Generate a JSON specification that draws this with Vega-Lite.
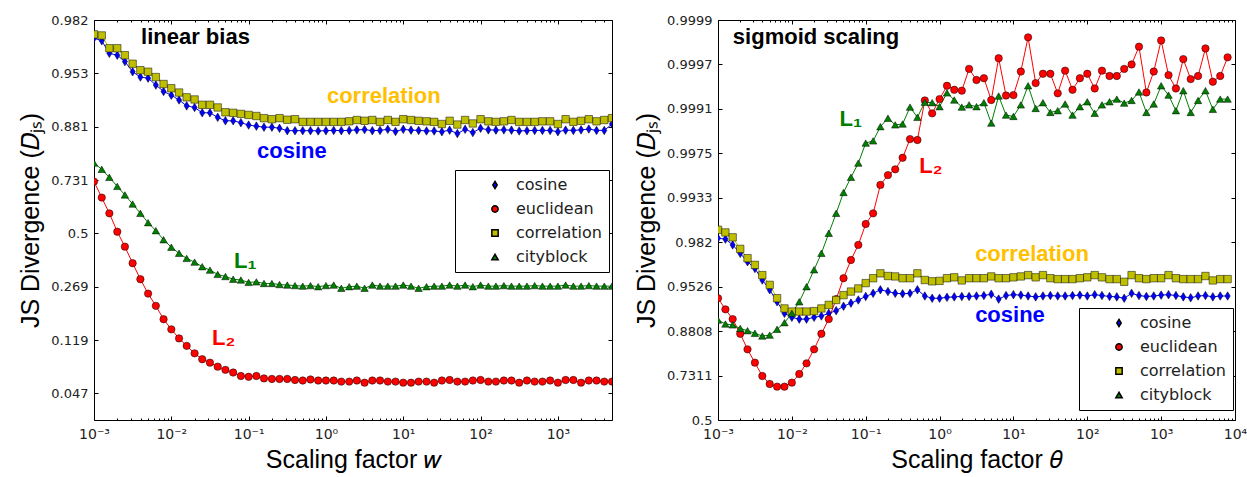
{
"$schema": "https://vega.github.io/schema/vega-lite/v6.json",
"background": "white",
"padding": {"left": 18, "top": 13, "right": 0, "bottom": 0},
"spacing": 21,
"config": {
  "view": {"stroke": "black", "strokeWidth": 1},
  "axis": {"domain": false, "grid": false, "labelFlush": false, "tickColor": "black", "tickWidth": 1, "labelFont": "DejaVu Sans", "labelFontSize": 13, "labelColor": "#222222", "titleFont": "Liberation Sans", "titleFontSize": 25, "titleFontWeight": "normal", "titleColor": "black"}
},
"resolve": {"scale": {"color": "independent", "shape": "independent", "stroke": "independent"}},
"datasets": {
"L": [
{"s":"cosine","x":0.001,"y":3.66},{"s":"cosine","x":0.00126,"y":3.61},{"s":"cosine","x":0.00158,"y":3.375},{"s":"cosine","x":0.002,"y":3.34},{"s":"cosine","x":0.00251,"y":3.22},{"s":"cosine","x":0.00316,"y":3.03},{"s":"cosine","x":0.00398,"y":2.93},{"s":"cosine","x":0.00501,"y":2.91},{"s":"cosine","x":0.00631,"y":2.78},{"s":"cosine","x":0.00794,"y":2.66},
{"s":"cosine","x":0.01,"y":2.59},{"s":"cosine","x":0.0126,"y":2.5},{"s":"cosine","x":0.0158,"y":2.39},{"s":"cosine","x":0.02,"y":2.36},{"s":"cosine","x":0.0251,"y":2.26},{"s":"cosine","x":0.0316,"y":2.26},{"s":"cosine","x":0.0398,"y":2.175},{"s":"cosine","x":0.0501,"y":2.11},{"s":"cosine","x":0.0631,"y":2.11},{"s":"cosine","x":0.0794,"y":2.075},
{"s":"cosine","x":0.1,"y":2.03},{"s":"cosine","x":0.126,"y":2.01},{"s":"cosine","x":0.158,"y":1.99},{"s":"cosine","x":0.2,"y":1.99},{"s":"cosine","x":0.251,"y":1.97},{"s":"cosine","x":0.316,"y":1.925},{"s":"cosine","x":0.398,"y":1.925},{"s":"cosine","x":0.501,"y":1.925},{"s":"cosine","x":0.631,"y":1.925},{"s":"cosine","x":0.794,"y":1.92},
{"s":"cosine","x":1,"y":1.925},{"s":"cosine","x":1.26,"y":1.93},{"s":"cosine","x":1.58,"y":1.925},{"s":"cosine","x":2,"y":1.93},{"s":"cosine","x":2.51,"y":1.94},{"s":"cosine","x":3.16,"y":1.945},{"s":"cosine","x":3.98,"y":1.925},{"s":"cosine","x":5.01,"y":1.93},{"s":"cosine","x":6.31,"y":1.95},{"s":"cosine","x":7.94,"y":1.91},
{"s":"cosine","x":10,"y":1.95},{"s":"cosine","x":12.6,"y":1.935},{"s":"cosine","x":15.8,"y":1.93},{"s":"cosine","x":20,"y":1.92},{"s":"cosine","x":25.1,"y":1.92},{"s":"cosine","x":31.6,"y":1.905},{"s":"cosine","x":39.8,"y":1.935},{"s":"cosine","x":50.1,"y":1.87},{"s":"cosine","x":63.1,"y":1.95},{"s":"cosine","x":79.4,"y":1.89},
{"s":"cosine","x":100,"y":1.97},{"s":"cosine","x":126,"y":1.94},{"s":"cosine","x":158,"y":1.935},{"s":"cosine","x":200,"y":1.94},{"s":"cosine","x":251,"y":1.935},{"s":"cosine","x":316,"y":1.92},{"s":"cosine","x":398,"y":1.925},{"s":"cosine","x":501,"y":1.93},{"s":"cosine","x":631,"y":1.93},{"s":"cosine","x":794,"y":1.93},
{"s":"cosine","x":1000,"y":1.905},{"s":"cosine","x":1259,"y":1.935},{"s":"cosine","x":1585,"y":1.93},{"s":"cosine","x":1995,"y":1.94},{"s":"cosine","x":2512,"y":1.955},{"s":"cosine","x":3162,"y":1.93},{"s":"cosine","x":3981,"y":1.93},{"s":"cosine","x":5012,"y":2.05},
{"s":"euclidean","x":0.001,"y":0.97},{"s":"euclidean","x":0.00126,"y":0.67},{"s":"euclidean","x":0.00158,"y":0.375},{"s":"euclidean","x":0.002,"y":0.03},{"s":"euclidean","x":0.00251,"y":-0.25},{"s":"euclidean","x":0.00316,"y":-0.56},{"s":"euclidean","x":0.00398,"y":-0.86},{"s":"euclidean","x":0.00501,"y":-1.13},{"s":"euclidean","x":0.00631,"y":-1.36},{"s":"euclidean","x":0.00794,"y":-1.61},
{"s":"euclidean","x":0.01,"y":-1.8},{"s":"euclidean","x":0.0126,"y":-1.97},{"s":"euclidean","x":0.0158,"y":-2.11},{"s":"euclidean","x":0.02,"y":-2.25},{"s":"euclidean","x":0.0251,"y":-2.36},{"s":"euclidean","x":0.0316,"y":-2.425},{"s":"euclidean","x":0.0398,"y":-2.5},{"s":"euclidean","x":0.0501,"y":-2.56},{"s":"euclidean","x":0.0631,"y":-2.61},{"s":"euclidean","x":0.0794,"y":-2.675},
{"s":"euclidean","x":0.1,"y":-2.69},{"s":"euclidean","x":0.126,"y":-2.675},{"s":"euclidean","x":0.158,"y":-2.72},{"s":"euclidean","x":0.2,"y":-2.73},{"s":"euclidean","x":0.251,"y":-2.73},{"s":"euclidean","x":0.316,"y":-2.73},{"s":"euclidean","x":0.398,"y":-2.75},{"s":"euclidean","x":0.501,"y":-2.76},{"s":"euclidean","x":0.631,"y":-2.74},{"s":"euclidean","x":0.794,"y":-2.76},
{"s":"euclidean","x":1,"y":-2.76},{"s":"euclidean","x":1.26,"y":-2.76},{"s":"euclidean","x":1.58,"y":-2.78},{"s":"euclidean","x":2,"y":-2.78},{"s":"euclidean","x":2.51,"y":-2.76},{"s":"euclidean","x":3.16,"y":-2.8},{"s":"euclidean","x":3.98,"y":-2.76},{"s":"euclidean","x":5.01,"y":-2.76},{"s":"euclidean","x":6.31,"y":-2.78},{"s":"euclidean","x":7.94,"y":-2.78},
{"s":"euclidean","x":10,"y":-2.8},{"s":"euclidean","x":12.6,"y":-2.8},{"s":"euclidean","x":15.8,"y":-2.78},{"s":"euclidean","x":20,"y":-2.78},{"s":"euclidean","x":25.1,"y":-2.8},{"s":"euclidean","x":31.6,"y":-2.76},{"s":"euclidean","x":39.8,"y":-2.75},{"s":"euclidean","x":50.1,"y":-2.78},{"s":"euclidean","x":63.1,"y":-2.78},{"s":"euclidean","x":79.4,"y":-2.76},
{"s":"euclidean","x":100,"y":-2.75},{"s":"euclidean","x":126,"y":-2.78},{"s":"euclidean","x":158,"y":-2.78},{"s":"euclidean","x":200,"y":-2.76},{"s":"euclidean","x":251,"y":-2.76},{"s":"euclidean","x":316,"y":-2.8},{"s":"euclidean","x":398,"y":-2.76},{"s":"euclidean","x":501,"y":-2.78},{"s":"euclidean","x":631,"y":-2.78},{"s":"euclidean","x":794,"y":-2.76},
{"s":"euclidean","x":1000,"y":-2.8},{"s":"euclidean","x":1259,"y":-2.75},{"s":"euclidean","x":1585,"y":-2.75},{"s":"euclidean","x":1995,"y":-2.8},{"s":"euclidean","x":2512,"y":-2.76},{"s":"euclidean","x":3162,"y":-2.76},{"s":"euclidean","x":3981,"y":-2.78},{"s":"euclidean","x":5012,"y":-2.78},
{"s":"correlation","x":0.001,"y":3.73},{"s":"correlation","x":0.00126,"y":3.71},{"s":"correlation","x":0.00158,"y":3.47},{"s":"correlation","x":0.002,"y":3.47},{"s":"correlation","x":0.00251,"y":3.34},{"s":"correlation","x":0.00316,"y":3.18},{"s":"correlation","x":0.00398,"y":3.06},{"s":"correlation","x":0.00501,"y":3.03},{"s":"correlation","x":0.00631,"y":2.93},{"s":"correlation","x":0.00794,"y":2.8},
{"s":"correlation","x":0.01,"y":2.72},{"s":"correlation","x":0.0126,"y":2.64},{"s":"correlation","x":0.0158,"y":2.55},{"s":"correlation","x":0.02,"y":2.51},{"s":"correlation","x":0.0251,"y":2.41},{"s":"correlation","x":0.0316,"y":2.41},{"s":"correlation","x":0.0398,"y":2.36},{"s":"correlation","x":0.0501,"y":2.27},{"s":"correlation","x":0.0631,"y":2.26},{"s":"correlation","x":0.0794,"y":2.24},
{"s":"correlation","x":0.1,"y":2.22},{"s":"correlation","x":0.126,"y":2.2},{"s":"correlation","x":0.158,"y":2.16},{"s":"correlation","x":0.2,"y":2.14},{"s":"correlation","x":0.251,"y":2.16},{"s":"correlation","x":0.316,"y":2.13},{"s":"correlation","x":0.398,"y":2.14},{"s":"correlation","x":0.501,"y":2.09},{"s":"correlation","x":0.631,"y":2.09},{"s":"correlation","x":0.794,"y":2.09},
{"s":"correlation","x":1,"y":2.09},{"s":"correlation","x":1.26,"y":2.09},{"s":"correlation","x":1.58,"y":2.09},{"s":"correlation","x":2,"y":2.1},{"s":"correlation","x":2.51,"y":2.125},{"s":"correlation","x":3.16,"y":2.11},{"s":"correlation","x":3.98,"y":2.125},{"s":"correlation","x":5.01,"y":2.09},{"s":"correlation","x":6.31,"y":2.125},{"s":"correlation","x":7.94,"y":2.09},
{"s":"correlation","x":10,"y":2.14},{"s":"correlation","x":12.6,"y":2.125},{"s":"correlation","x":15.8,"y":2.11},{"s":"correlation","x":20,"y":2.1},{"s":"correlation","x":25.1,"y":2.09},{"s":"correlation","x":31.6,"y":2.05},{"s":"correlation","x":39.8,"y":2.11},{"s":"correlation","x":50.1,"y":2.04},{"s":"correlation","x":63.1,"y":2.125},{"s":"correlation","x":79.4,"y":2.06},
{"s":"correlation","x":100,"y":2.14},{"s":"correlation","x":126,"y":2.1},{"s":"correlation","x":158,"y":2.09},{"s":"correlation","x":200,"y":2.1},{"s":"correlation","x":251,"y":2.125},{"s":"correlation","x":316,"y":2.09},{"s":"correlation","x":398,"y":2.09},{"s":"correlation","x":501,"y":2.09},{"s":"correlation","x":631,"y":2.1},{"s":"correlation","x":794,"y":2.1},
{"s":"correlation","x":1000,"y":2.05},{"s":"correlation","x":1259,"y":2.14},{"s":"correlation","x":1585,"y":2.09},{"s":"correlation","x":1995,"y":2.11},{"s":"correlation","x":2512,"y":2.14},{"s":"correlation","x":3162,"y":2.1},{"s":"correlation","x":3981,"y":2.125},{"s":"correlation","x":5012,"y":2.16},
{"s":"cityblock","x":0.001,"y":1.32},{"s":"cityblock","x":0.00126,"y":1.2},{"s":"cityblock","x":0.00158,"y":1.05},{"s":"cityblock","x":0.002,"y":0.88},{"s":"cityblock","x":0.00251,"y":0.72},{"s":"cityblock","x":0.00316,"y":0.55},{"s":"cityblock","x":0.00398,"y":0.375},{"s":"cityblock","x":0.00501,"y":0.2},{"s":"cityblock","x":0.00631,"y":0.05},{"s":"cityblock","x":0.00794,"y":-0.12},
{"s":"cityblock","x":0.01,"y":-0.26},{"s":"cityblock","x":0.0126,"y":-0.375},{"s":"cityblock","x":0.0158,"y":-0.47},{"s":"cityblock","x":0.02,"y":-0.54},{"s":"cityblock","x":0.0251,"y":-0.625},{"s":"cityblock","x":0.0316,"y":-0.69},{"s":"cityblock","x":0.0398,"y":-0.77},{"s":"cityblock","x":0.0501,"y":-0.81},{"s":"cityblock","x":0.0631,"y":-0.86},{"s":"cityblock","x":0.0794,"y":-0.875},
{"s":"cityblock","x":0.1,"y":-0.92},{"s":"cityblock","x":0.126,"y":-0.91},{"s":"cityblock","x":0.158,"y":-0.94},{"s":"cityblock","x":0.2,"y":-0.94},{"s":"cityblock","x":0.251,"y":-0.96},{"s":"cityblock","x":0.316,"y":-0.97},{"s":"cityblock","x":0.398,"y":-0.98},{"s":"cityblock","x":0.501,"y":-0.99},{"s":"cityblock","x":0.631,"y":-0.98},{"s":"cityblock","x":0.794,"y":-1.0},
{"s":"cityblock","x":1,"y":-0.98},{"s":"cityblock","x":1.26,"y":-0.97},{"s":"cityblock","x":1.58,"y":-1.03},{"s":"cityblock","x":2,"y":-1.0},{"s":"cityblock","x":2.51,"y":-0.99},{"s":"cityblock","x":3.16,"y":-1.03},{"s":"cityblock","x":3.98,"y":-0.97},{"s":"cityblock","x":5.01,"y":-0.99},{"s":"cityblock","x":6.31,"y":-0.99},{"s":"cityblock","x":7.94,"y":-0.99},
{"s":"cityblock","x":10,"y":-0.97},{"s":"cityblock","x":12.6,"y":-0.99},{"s":"cityblock","x":15.8,"y":-1.03},{"s":"cityblock","x":20,"y":-1.0},{"s":"cityblock","x":25.1,"y":-0.99},{"s":"cityblock","x":31.6,"y":-0.99},{"s":"cityblock","x":39.8,"y":-0.97},{"s":"cityblock","x":50.1,"y":-0.99},{"s":"cityblock","x":63.1,"y":-0.97},{"s":"cityblock","x":79.4,"y":-1.0},
{"s":"cityblock","x":100,"y":-0.97},{"s":"cityblock","x":126,"y":-0.99},{"s":"cityblock","x":158,"y":-0.99},{"s":"cityblock","x":200,"y":-0.98},{"s":"cityblock","x":251,"y":-0.99},{"s":"cityblock","x":316,"y":-0.99},{"s":"cityblock","x":398,"y":-0.99},{"s":"cityblock","x":501,"y":-0.98},{"s":"cityblock","x":631,"y":-0.99},{"s":"cityblock","x":794,"y":-0.99},
{"s":"cityblock","x":1000,"y":-0.99},{"s":"cityblock","x":1259,"y":-0.97},{"s":"cityblock","x":1585,"y":-0.99},{"s":"cityblock","x":1995,"y":-0.99},{"s":"cityblock","x":2512,"y":-0.98},{"s":"cityblock","x":3162,"y":-0.99},{"s":"cityblock","x":3981,"y":-0.99},{"s":"cityblock","x":5012,"y":-0.99}
],
"R": [
{"s":"cosine","x":0.001,"y":4.09},{"s":"cosine","x":0.00126,"y":4.07},{"s":"cosine","x":0.00158,"y":3.94},{"s":"cosine","x":0.002,"y":3.75},{"s":"cosine","x":0.00251,"y":3.56},{"s":"cosine","x":0.00316,"y":3.41},{"s":"cosine","x":0.00398,"y":3.15},{"s":"cosine","x":0.00501,"y":2.93},{"s":"cosine","x":0.00631,"y":2.66},{"s":"cosine","x":0.00794,"y":2.4},
{"s":"cosine","x":0.01,"y":2.31},{"s":"cosine","x":0.0126,"y":2.27},{"s":"cosine","x":0.0158,"y":2.27},{"s":"cosine","x":0.02,"y":2.31},{"s":"cosine","x":0.0251,"y":2.34},{"s":"cosine","x":0.0316,"y":2.4},{"s":"cosine","x":0.0398,"y":2.46},{"s":"cosine","x":0.0501,"y":2.56},{"s":"cosine","x":0.0631,"y":2.63},{"s":"cosine","x":0.0794,"y":2.7},
{"s":"cosine","x":0.1,"y":2.78},{"s":"cosine","x":0.126,"y":2.85},{"s":"cosine","x":0.158,"y":2.93},{"s":"cosine","x":0.2,"y":2.89},{"s":"cosine","x":0.251,"y":2.85},{"s":"cosine","x":0.316,"y":2.84},{"s":"cosine","x":0.398,"y":2.85},{"s":"cosine","x":0.501,"y":2.93},{"s":"cosine","x":0.631,"y":2.79},{"s":"cosine","x":0.794,"y":2.74},
{"s":"cosine","x":1,"y":2.74},{"s":"cosine","x":1.26,"y":2.76},{"s":"cosine","x":1.58,"y":2.77},{"s":"cosine","x":2,"y":2.78},{"s":"cosine","x":2.51,"y":2.78},{"s":"cosine","x":3.16,"y":2.79},{"s":"cosine","x":3.98,"y":2.8},{"s":"cosine","x":5.01,"y":2.83},{"s":"cosine","x":6.31,"y":2.72},{"s":"cosine","x":7.94,"y":2.8},
{"s":"cosine","x":10,"y":2.82},{"s":"cosine","x":12.6,"y":2.81},{"s":"cosine","x":15.8,"y":2.79},{"s":"cosine","x":20,"y":2.77},{"s":"cosine","x":25.1,"y":2.79},{"s":"cosine","x":31.6,"y":2.8},{"s":"cosine","x":39.8,"y":2.79},{"s":"cosine","x":50.1,"y":2.79},{"s":"cosine","x":63.1,"y":2.8},{"s":"cosine","x":79.4,"y":2.81},
{"s":"cosine","x":100,"y":2.79},{"s":"cosine","x":126,"y":2.82},{"s":"cosine","x":158,"y":2.8},{"s":"cosine","x":200,"y":2.78},{"s":"cosine","x":251,"y":2.77},{"s":"cosine","x":316,"y":2.74},{"s":"cosine","x":398,"y":2.85},{"s":"cosine","x":501,"y":2.8},{"s":"cosine","x":631,"y":2.78},{"s":"cosine","x":794,"y":2.79},
{"s":"cosine","x":1000,"y":2.81},{"s":"cosine","x":1259,"y":2.82},{"s":"cosine","x":1585,"y":2.8},{"s":"cosine","x":1995,"y":2.77},{"s":"cosine","x":2512,"y":2.75},{"s":"cosine","x":3162,"y":2.79},{"s":"cosine","x":3981,"y":2.8},{"s":"cosine","x":5012,"y":2.77},{"s":"cosine","x":6310,"y":2.79},{"s":"cosine","x":7943,"y":2.79},
{"s":"euclidean","x":0.001,"y":2.74},{"s":"euclidean","x":0.00126,"y":2.49},{"s":"euclidean","x":0.00158,"y":2.27},{"s":"euclidean","x":0.002,"y":1.94},{"s":"euclidean","x":0.00251,"y":1.59},{"s":"euclidean","x":0.00316,"y":1.29},{"s":"euclidean","x":0.00398,"y":0.99},{"s":"euclidean","x":0.00501,"y":0.81},{"s":"euclidean","x":0.00631,"y":0.75},{"s":"euclidean","x":0.00794,"y":0.75},
{"s":"euclidean","x":0.01,"y":0.84},{"s":"euclidean","x":0.0126,"y":1.035},{"s":"euclidean","x":0.0158,"y":1.275},{"s":"euclidean","x":0.02,"y":1.59},{"s":"euclidean","x":0.0251,"y":1.94},{"s":"euclidean","x":0.0316,"y":2.27},{"s":"euclidean","x":0.0398,"y":2.72},{"s":"euclidean","x":0.0501,"y":3.19},{"s":"euclidean","x":0.0631,"y":3.6},{"s":"euclidean","x":0.0794,"y":3.94},
{"s":"euclidean","x":0.1,"y":4.41},{"s":"euclidean","x":0.126,"y":4.65},{"s":"euclidean","x":0.158,"y":5.29},{"s":"euclidean","x":0.2,"y":5.51},{"s":"euclidean","x":0.251,"y":5.64},{"s":"euclidean","x":0.316,"y":5.9},{"s":"euclidean","x":0.398,"y":6.32},{"s":"euclidean","x":0.501,"y":6.3},{"s":"euclidean","x":0.631,"y":7.19},{"s":"euclidean","x":0.794,"y":6.9},
{"s":"euclidean","x":1,"y":7.22},{"s":"euclidean","x":1.26,"y":7.52},{"s":"euclidean","x":1.58,"y":7.43},{"s":"euclidean","x":2,"y":7.41},{"s":"euclidean","x":2.51,"y":7.9},{"s":"euclidean","x":3.16,"y":7.65},{"s":"euclidean","x":3.98,"y":7.69},{"s":"euclidean","x":5.01,"y":7.2},{"s":"euclidean","x":6.31,"y":8.14},{"s":"euclidean","x":7.94,"y":7.3},
{"s":"euclidean","x":10,"y":7.31},{"s":"euclidean","x":12.6,"y":7.84},{"s":"euclidean","x":15.8,"y":8.61},{"s":"euclidean","x":20,"y":7.58},{"s":"euclidean","x":25.1,"y":7.79},{"s":"euclidean","x":31.6,"y":7.79},{"s":"euclidean","x":39.8,"y":7.35},{"s":"euclidean","x":50.1,"y":7.86},{"s":"euclidean","x":63.1,"y":7.43},{"s":"euclidean","x":79.4,"y":7.69},
{"s":"euclidean","x":100,"y":7.79},{"s":"euclidean","x":126,"y":7.46},{"s":"euclidean","x":158,"y":7.86},{"s":"euclidean","x":200,"y":7.74},{"s":"euclidean","x":251,"y":7.74},{"s":"euclidean","x":316,"y":7.9},{"s":"euclidean","x":398,"y":8.0},{"s":"euclidean","x":501,"y":8.4},{"s":"euclidean","x":631,"y":7.37},{"s":"euclidean","x":794,"y":7.84},
{"s":"euclidean","x":1000,"y":8.54},{"s":"euclidean","x":1259,"y":7.76},{"s":"euclidean","x":1585,"y":7.46},{"s":"euclidean","x":1995,"y":8.12},{"s":"euclidean","x":2512,"y":7.67},{"s":"euclidean","x":3162,"y":7.74},{"s":"euclidean","x":3981,"y":8.36},{"s":"euclidean","x":5012,"y":7.61},{"s":"euclidean","x":6310,"y":7.74},{"s":"euclidean","x":7943,"y":8.16},
{"s":"correlation","x":0.001,"y":4.28},{"s":"correlation","x":0.00126,"y":4.22},{"s":"correlation","x":0.00158,"y":4.11},{"s":"correlation","x":0.002,"y":3.85},{"s":"correlation","x":0.00251,"y":3.64},{"s":"correlation","x":0.00316,"y":3.49},{"s":"correlation","x":0.00398,"y":3.26},{"s":"correlation","x":0.00501,"y":3.04},{"s":"correlation","x":0.00631,"y":2.74},{"s":"correlation","x":0.00794,"y":2.51},
{"s":"correlation","x":0.01,"y":2.44},{"s":"correlation","x":0.0126,"y":2.44},{"s":"correlation","x":0.0158,"y":2.44},{"s":"correlation","x":0.02,"y":2.45},{"s":"correlation","x":0.0251,"y":2.51},{"s":"correlation","x":0.0316,"y":2.59},{"s":"correlation","x":0.0398,"y":2.7},{"s":"correlation","x":0.0501,"y":2.81},{"s":"correlation","x":0.0631,"y":2.89},{"s":"correlation","x":0.0794,"y":2.96},
{"s":"correlation","x":0.1,"y":3.08},{"s":"correlation","x":0.126,"y":3.19},{"s":"correlation","x":0.158,"y":3.3},{"s":"correlation","x":0.2,"y":3.24},{"s":"correlation","x":0.251,"y":3.23},{"s":"correlation","x":0.316,"y":3.19},{"s":"correlation","x":0.398,"y":3.19},{"s":"correlation","x":0.501,"y":3.3},{"s":"correlation","x":0.631,"y":3.15},{"s":"correlation","x":0.794,"y":3.12},
{"s":"correlation","x":1,"y":3.13},{"s":"correlation","x":1.26,"y":3.19},{"s":"correlation","x":1.58,"y":3.21},{"s":"correlation","x":2,"y":3.14},{"s":"correlation","x":2.51,"y":3.19},{"s":"correlation","x":3.16,"y":3.19},{"s":"correlation","x":3.98,"y":3.19},{"s":"correlation","x":5.01,"y":3.23},{"s":"correlation","x":6.31,"y":3.19},{"s":"correlation","x":7.94,"y":3.19},
{"s":"correlation","x":10,"y":3.21},{"s":"correlation","x":12.6,"y":3.23},{"s":"correlation","x":15.8,"y":3.26},{"s":"correlation","x":20,"y":3.21},{"s":"correlation","x":25.1,"y":3.26},{"s":"correlation","x":31.6,"y":3.19},{"s":"correlation","x":39.8,"y":3.17},{"s":"correlation","x":50.1,"y":3.17},{"s":"correlation","x":63.1,"y":3.17},{"s":"correlation","x":79.4,"y":3.19},
{"s":"correlation","x":100,"y":3.21},{"s":"correlation","x":126,"y":3.26},{"s":"correlation","x":158,"y":3.21},{"s":"correlation","x":200,"y":3.17},{"s":"correlation","x":251,"y":3.17},{"s":"correlation","x":316,"y":3.11},{"s":"correlation","x":398,"y":3.26},{"s":"correlation","x":501,"y":3.19},{"s":"correlation","x":631,"y":3.17},{"s":"correlation","x":794,"y":3.19},
{"s":"correlation","x":1000,"y":3.19},{"s":"correlation","x":1259,"y":3.26},{"s":"correlation","x":1585,"y":3.19},{"s":"correlation","x":1995,"y":3.17},{"s":"correlation","x":2512,"y":3.17},{"s":"correlation","x":3162,"y":3.17},{"s":"correlation","x":3981,"y":3.24},{"s":"correlation","x":5012,"y":3.14},{"s":"correlation","x":6310,"y":3.17},{"s":"correlation","x":7943,"y":3.17},
{"s":"cityblock","x":0.001,"y":2.25},{"s":"cityblock","x":0.00126,"y":2.16},{"s":"cityblock","x":0.00158,"y":2.14},{"s":"cityblock","x":0.002,"y":2.06},{"s":"cityblock","x":0.00251,"y":2.01},{"s":"cityblock","x":0.00316,"y":1.95},{"s":"cityblock","x":0.00398,"y":1.89},{"s":"cityblock","x":0.00501,"y":1.91},{"s":"cityblock","x":0.00631,"y":2.04},{"s":"cityblock","x":0.00794,"y":2.19},
{"s":"cityblock","x":0.01,"y":2.4},{"s":"cityblock","x":0.0126,"y":2.66},{"s":"cityblock","x":0.0158,"y":3.0},{"s":"cityblock","x":0.02,"y":3.38},{"s":"cityblock","x":0.0251,"y":3.75},{"s":"cityblock","x":0.0316,"y":4.2},{"s":"cityblock","x":0.0398,"y":4.65},{"s":"cityblock","x":0.0501,"y":5.12},{"s":"cityblock","x":0.0631,"y":5.46},{"s":"cityblock","x":0.0794,"y":5.78},
{"s":"cityblock","x":0.1,"y":6.23},{"s":"cityblock","x":0.126,"y":6.28},{"s":"cityblock","x":0.158,"y":6.6},{"s":"cityblock","x":0.2,"y":6.79},{"s":"cityblock","x":0.251,"y":6.64},{"s":"cityblock","x":0.316,"y":6.66},{"s":"cityblock","x":0.398,"y":7.04},{"s":"cityblock","x":0.501,"y":6.81},{"s":"cityblock","x":0.631,"y":7.15},{"s":"cityblock","x":0.794,"y":7.14},
{"s":"cityblock","x":1,"y":7.05},{"s":"cityblock","x":1.26,"y":7.36},{"s":"cityblock","x":1.58,"y":7.2},{"s":"cityblock","x":2,"y":7.04},{"s":"cityblock","x":2.51,"y":7.09},{"s":"cityblock","x":3.16,"y":7.05},{"s":"cityblock","x":3.98,"y":7.14},{"s":"cityblock","x":5.01,"y":6.68},{"s":"cityblock","x":6.31,"y":7.29},{"s":"cityblock","x":7.94,"y":6.86},
{"s":"cityblock","x":10,"y":6.83},{"s":"cityblock","x":12.6,"y":7.09},{"s":"cityblock","x":15.8,"y":7.52},{"s":"cityblock","x":20,"y":7.01},{"s":"cityblock","x":25.1,"y":7.14},{"s":"cityblock","x":31.6,"y":6.92},{"s":"cityblock","x":39.8,"y":6.96},{"s":"cityblock","x":50.1,"y":7.11},{"s":"cityblock","x":63.1,"y":6.86},{"s":"cityblock","x":79.4,"y":7.05},
{"s":"cityblock","x":100,"y":7.16},{"s":"cityblock","x":126,"y":6.9},{"s":"cityblock","x":158,"y":7.09},{"s":"cityblock","x":200,"y":7.16},{"s":"cityblock","x":251,"y":7.22},{"s":"cityblock","x":316,"y":7.13},{"s":"cityblock","x":398,"y":7.19},{"s":"cityblock","x":501,"y":7.38},{"s":"cityblock","x":631,"y":6.92},{"s":"cityblock","x":794,"y":7.11},
{"s":"cityblock","x":1000,"y":7.52},{"s":"cityblock","x":1259,"y":7.31},{"s":"cityblock","x":1585,"y":6.96},{"s":"cityblock","x":1995,"y":7.41},{"s":"cityblock","x":2512,"y":6.92},{"s":"cityblock","x":3162,"y":7.19},{"s":"cityblock","x":3981,"y":7.41},{"s":"cityblock","x":5012,"y":6.99},{"s":"cityblock","x":6310,"y":7.22},{"s":"cityblock","x":7943,"y":7.22}
]
},
"hconcat": [
{
  "width": 518, "height": 400,
  "data": {"name": "L"},
  "resolve": {"axis": {"x": "independent", "y": "independent"}},
  "layer": [
    {"mark": {"type": "line", "strokeWidth": 1, "clip": true},
     "encoding": {
       "x": {"field": "x", "type": "quantitative", "scale": {"type": "log", "domain": [0.001, 5012], "nice": false},
             "axis": {"orient": "bottom", "values": [0.001, 0.01, 0.1, 1, 10, 100, 1000], "labelExpr": "['10⁻³','10⁻²','10⁻¹','10⁰','10¹','10²','10³','10⁴'][round(log(datum.value)/LN10)+3]", "labelFontSize": 14, "labelFlush": false, "tickSize": -4, "labelPadding": 11, "title": "Scaling factor 𝑤", "titlePadding": 6}},
       "y": {"field": "y", "type": "quantitative", "scale": {"domain": [-3.5, 4], "nice": false, "zero": false},
             "axis": {"orient": "left", "values": [-3, -2, -1, 0, 1, 2, 3, 4], "labelExpr": "['0.047','0.119','0.269','0.5','0.731','0.881','0.953','0.982'][datum.value+3]", "tickSize": -4, "labelPadding": 10, "title": "JS Divergence (𝐷ⱼₛ)", "titlePadding": 7}},
       "stroke": {"field": "s", "type": "nominal", "scale": {"domain": ["cosine", "euclidean", "correlation", "cityblock", "none"], "range": ["#0000ff", "#ff0000", "#bfbf00", "#008000", "#000000"]}, "legend": null}
     }},
    {"mark": {"type": "point", "filled": true, "opacity": 1, "stroke": "black", "strokeWidth": 0.5, "size": 55, "clip": true},
     "encoding": {
       "x": {"field": "x", "type": "quantitative",
             "axis": {"orient": "bottom", "values": [0.002,0.003,0.004,0.005,0.006,0.007,0.008,0.009,0.02,0.03,0.04,0.05,0.06,0.07,0.08,0.09,0.2,0.3,0.4,0.5,0.6,0.7,0.8,0.9,2,3,4,5,6,7,8,9,20,30,40,50,60,70,80,90,200,300,400,500,600,700,800,900,2000,3000,4000,5000], "labels": false, "tickSize": -2, "title": null}},
       "y": {"field": "y", "type": "quantitative",
             "axis": {"orient": "right", "values": [-3, -2, -1, 0, 1, 2, 3, 4], "labels": false, "tickSize": -4, "title": null}},
       "color": {"field": "s", "type": "nominal", "scale": {"domain": ["cosine", "euclidean", "correlation", "cityblock"], "range": ["#0000ff", "#ff0000", "#bfbf00", "#008000"]},
                 "legend": {"orient": "none", "legendX": 361, "legendY": 150, "title": null, "strokeColor": "black", "fillColor": "white", "padding": 7, "rowPadding": 8, "symbolOffset": 25, "labelOffset": 13, "labelFont": "DejaVu Sans", "labelFontSize": 16, "labelColor": "#222222", "symbolSize": 40, "cornerRadius": 0}},
       "shape": {"field": "s", "type": "nominal", "scale": {"domain": ["cosine", "euclidean", "correlation", "cityblock"], "range": ["M0,-1.15L0.7,0L0,1.15L-0.7,0Z", "circle", "square", "triangle-up"]},
                 "legend": {"orient": "none", "legendX": 361, "legendY": 150, "title": null, "strokeColor": "black", "fillColor": "white", "padding": 7, "rowPadding": 8, "symbolOffset": 25, "labelOffset": 13, "labelFont": "DejaVu Sans", "labelFontSize": 16, "labelColor": "#222222", "symbolSize": 40, "cornerRadius": 0}}
     }},
    {"data": {"values": [{"x": 0.00406, "y": 3.68, "t": "linear bias"}]},
     "mark": {"type": "text", "align": "left", "baseline": "middle", "font": "Liberation Sans", "fontSize": 22, "fontWeight": "bold", "color": "black"},
     "encoding": {
       "x": {"field": "x", "type": "quantitative", "axis": {"orient": "top", "values": [0.001, 0.01, 0.1, 1, 10, 100, 1000], "labels": false, "tickSize": -4, "title": null}},
       "y": {"field": "y", "type": "quantitative", "axis": null},
       "text": {"field": "t"}}},
    {"data": {"values": [{"x": 1.03, "y": 2.57, "t": "correlation"}]},
     "mark": {"type": "text", "align": "left", "baseline": "middle", "font": "Liberation Sans", "fontSize": 22, "fontWeight": "bold", "color": "#ffc000"},
     "encoding": {
       "x": {"field": "x", "type": "quantitative", "axis": {"orient": "top", "values": [0.002,0.003,0.004,0.005,0.006,0.007,0.008,0.009,0.02,0.03,0.04,0.05,0.06,0.07,0.08,0.09,0.2,0.3,0.4,0.5,0.6,0.7,0.8,0.9,2,3,4,5,6,7,8,9,20,30,40,50,60,70,80,90,200,300,400,500,600,700,800,900,2000,3000,4000,5000], "labels": false, "tickSize": -2, "title": null}},
       "y": {"field": "y", "type": "quantitative", "axis": null},
       "text": {"field": "t"}}},
    {"data": {"values": [{"x": 0.1285, "y": 1.54, "t": "cosine"}]},
     "mark": {"type": "text", "align": "left", "baseline": "middle", "font": "Liberation Sans", "fontSize": 22, "fontWeight": "bold", "color": "#0000ff"},
     "encoding": {"x": {"field": "x", "type": "quantitative", "axis": null}, "y": {"field": "y", "type": "quantitative", "axis": null}, "text": {"field": "t"}}},
    {"data": {"values": [{"x": 0.0647, "y": -0.52, "t": "L₁"}]},
     "mark": {"type": "text", "align": "left", "baseline": "middle", "font": "Liberation Sans", "fontSize": 22, "fontWeight": "bold", "color": "#008000"},
     "encoding": {"x": {"field": "x", "type": "quantitative", "axis": null}, "y": {"field": "y", "type": "quantitative", "axis": null}, "text": {"field": "t"}}},
    {"data": {"values": [{"x": 0.0337, "y": -1.97, "t": "L₂"}]},
     "mark": {"type": "text", "align": "left", "baseline": "middle", "font": "Liberation Sans", "fontSize": 22, "fontWeight": "bold", "color": "#ff0000"},
     "encoding": {"x": {"field": "x", "type": "quantitative", "axis": null}, "y": {"field": "y", "type": "quantitative", "axis": null}, "text": {"field": "t"}}}
  ]
},
{
  "width": 517, "height": 400,
  "data": {"name": "R"},
  "resolve": {"axis": {"x": "independent", "y": "independent"}},
  "layer": [
    {"mark": {"type": "line", "strokeWidth": 1, "clip": true},
     "encoding": {
       "x": {"field": "x", "type": "quantitative", "scale": {"type": "log", "domain": [0.001, 10000], "nice": false},
             "axis": {"orient": "bottom", "values": [0.001, 0.01, 0.1, 1, 10, 100, 1000, 10000], "labelExpr": "['10⁻³','10⁻²','10⁻¹','10⁰','10¹','10²','10³','10⁴'][round(log(datum.value)/LN10)+3]", "labelFontSize": 14, "labelFlush": false, "tickSize": -4, "labelPadding": 11, "title": "Scaling factor 𝜃", "titlePadding": 6}},
       "y": {"field": "y", "type": "quantitative", "scale": {"domain": [0, 9], "nice": false, "zero": false},
             "axis": {"orient": "left", "values": [0, 1, 2, 3, 4, 5, 6, 7, 8, 9], "labelExpr": "['0.5','0.7311','0.8808','0.9526','0.982','0.9933','0.9975','0.9991','0.9997','0.9999'][datum.value]", "tickSize": -4, "labelPadding": 10, "title": "JS Divergence (𝐷ⱼₛ)", "titlePadding": 7}},
       "stroke": {"field": "s", "type": "nominal", "scale": {"domain": ["cosine", "euclidean", "correlation", "cityblock", "none"], "range": ["#0000ff", "#ff0000", "#bfbf00", "#008000", "#000000"]}, "legend": null}
     }},
    {"mark": {"type": "point", "filled": true, "opacity": 1, "stroke": "black", "strokeWidth": 0.5, "size": 55, "clip": true},
     "encoding": {
       "x": {"field": "x", "type": "quantitative",
             "axis": {"orient": "bottom", "values": [0.002,0.003,0.004,0.005,0.006,0.007,0.008,0.009,0.02,0.03,0.04,0.05,0.06,0.07,0.08,0.09,0.2,0.3,0.4,0.5,0.6,0.7,0.8,0.9,2,3,4,5,6,7,8,9,20,30,40,50,60,70,80,90,200,300,400,500,600,700,800,900,2000,3000,4000,5000,6000,7000,8000,9000], "labels": false, "tickSize": -2, "title": null}},
       "y": {"field": "y", "type": "quantitative",
             "axis": {"orient": "right", "values": [0, 1, 2, 3, 4, 5, 6, 7, 8, 9], "labels": false, "tickSize": -4, "title": null}},
       "color": {"field": "s", "type": "nominal", "scale": {"domain": ["cosine", "euclidean", "correlation", "cityblock"], "range": ["#0000ff", "#ff0000", "#bfbf00", "#008000"]},
                 "legend": {"orient": "none", "legendX": 361, "legendY": 288, "title": null, "strokeColor": "black", "fillColor": "white", "padding": 7, "rowPadding": 8, "symbolOffset": 25, "labelOffset": 13, "labelFont": "DejaVu Sans", "labelFontSize": 16, "labelColor": "#222222", "symbolSize": 40, "cornerRadius": 0}},
       "shape": {"field": "s", "type": "nominal", "scale": {"domain": ["cosine", "euclidean", "correlation", "cityblock"], "range": ["M0,-1.15L0.7,0L0,1.15L-0.7,0Z", "circle", "square", "triangle-up"]},
                 "legend": {"orient": "none", "legendX": 361, "legendY": 288, "title": null, "strokeColor": "black", "fillColor": "white", "padding": 7, "rowPadding": 8, "symbolOffset": 25, "labelOffset": 13, "labelFont": "DejaVu Sans", "labelFontSize": 16, "labelColor": "#222222", "symbolSize": 40, "cornerRadius": 0}}
     }},
    {"data": {"values": [{"x": 0.00159, "y": 8.62, "t": "sigmoid scaling"}]},
     "mark": {"type": "text", "align": "left", "baseline": "middle", "font": "Liberation Sans", "fontSize": 22, "fontWeight": "bold", "color": "black"},
     "encoding": {
       "x": {"field": "x", "type": "quantitative", "axis": {"orient": "top", "values": [0.001, 0.01, 0.1, 1, 10, 100, 1000, 10000], "labels": false, "tickSize": -4, "title": null}},
       "y": {"field": "y", "type": "quantitative", "axis": null},
       "text": {"field": "t"}}},
    {"data": {"values": [{"x": 3.03, "y": 3.74, "t": "correlation"}]},
     "mark": {"type": "text", "align": "left", "baseline": "middle", "font": "Liberation Sans", "fontSize": 22, "fontWeight": "bold", "color": "#ffc000"},
     "encoding": {
       "x": {"field": "x", "type": "quantitative", "axis": {"orient": "top", "values": [0.002,0.003,0.004,0.005,0.006,0.007,0.008,0.009,0.02,0.03,0.04,0.05,0.06,0.07,0.08,0.09,0.2,0.3,0.4,0.5,0.6,0.7,0.8,0.9,2,3,4,5,6,7,8,9,20,30,40,50,60,70,80,90,200,300,400,500,600,700,800,900,2000,3000,4000,5000,6000,7000,8000,9000], "labels": false, "tickSize": -2, "title": null}},
       "y": {"field": "y", "type": "quantitative", "axis": null},
       "text": {"field": "t"}}},
    {"data": {"values": [{"x": 3.03, "y": 2.36, "t": "cosine"}]},
     "mark": {"type": "text", "align": "left", "baseline": "middle", "font": "Liberation Sans", "fontSize": 22, "fontWeight": "bold", "color": "#0000ff"},
     "encoding": {"x": {"field": "x", "type": "quantitative", "axis": null}, "y": {"field": "y", "type": "quantitative", "axis": null}, "text": {"field": "t"}}},
    {"data": {"values": [{"x": 0.0443, "y": 6.77, "t": "L₁"}]},
     "mark": {"type": "text", "align": "left", "baseline": "middle", "font": "Liberation Sans", "fontSize": 22, "fontWeight": "bold", "color": "#008000"},
     "encoding": {"x": {"field": "x", "type": "quantitative", "axis": null}, "y": {"field": "y", "type": "quantitative", "axis": null}, "text": {"field": "t"}}},
    {"data": {"values": [{"x": 0.532, "y": 5.72, "t": "L₂"}]},
     "mark": {"type": "text", "align": "left", "baseline": "middle", "font": "Liberation Sans", "fontSize": 22, "fontWeight": "bold", "color": "#ff0000"},
     "encoding": {"x": {"field": "x", "type": "quantitative", "axis": null}, "y": {"field": "y", "type": "quantitative", "axis": null}, "text": {"field": "t"}}}
  ]
}
]
}
